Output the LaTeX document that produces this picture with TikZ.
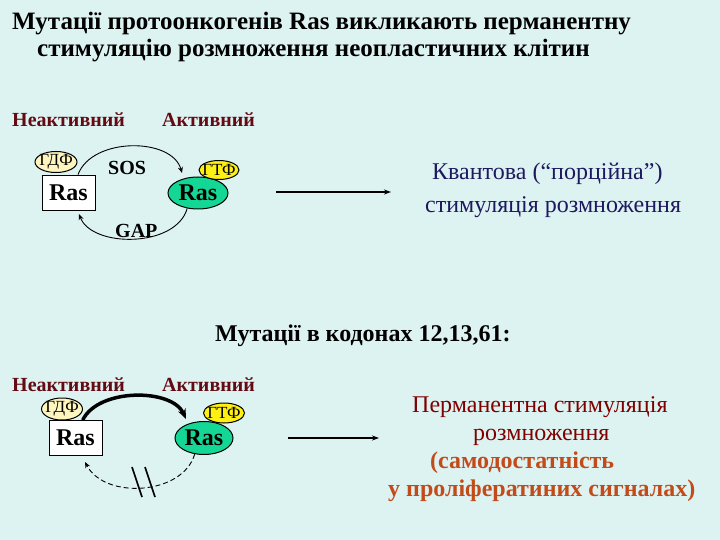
\documentclass[tikz,border=0pt]{standalone}
\usepackage{fontspec}
\setmainfont{Liberation Serif}
\usetikzlibrary{arrows.meta,shapes.geometric}
\definecolor{bg}{RGB}{221,243,241}
\definecolor{lbl}{RGB}{100,10,20}
\definecolor{navy}{RGB}{30,25,95}
\definecolor{dred}{RGB}{128,0,0}
\definecolor{brown}{RGB}{195,75,25}
\definecolor{gdp}{RGB}{255,245,190}
\definecolor{gtp}{RGB}{255,240,20}
\definecolor{grn}{RGB}{20,215,150}
\tikzset{
  state/.style={font=\bfseries\fontsize{20}{24}\selectfont, text=lbl, anchor=base west, inner sep=0pt},
  rasbox/.style={draw, line width=0.8pt, fill=white, minimum width=53pt, minimum height=35pt, inner sep=0pt, font=\bfseries\fontsize{24}{26}\selectfont},
  rasgreen/.style={ellipse, draw, line width=1pt, fill=grn, minimum width=60pt, minimum height=32pt, inner sep=0pt, font=\bfseries\fontsize{24}{26}\selectfont},
  nuc/.style={ellipse, draw, line width=1pt, inner xsep=-9pt, inner ysep=-3pt, font=\fontsize{17}{18}\selectfont},
  enz/.style={font=\bfseries\fontsize{20}{22}\selectfont, inner sep=0pt, anchor=base west},
  cyc/.style={-{Stealth[length=6pt,width=5pt]}, line width=0.9pt},
  big/.style={-{Stealth[length=7pt,width=5pt]}, line width=1.8pt},
  body/.style={font=\fontsize{24}{28}\selectfont, inner sep=0pt, anchor=base west},
  ttl/.style={anchor=base west, inner sep=0pt, font=\bfseries\fontsize{25}{30}\selectfont}
}
\begin{document}
\begin{tikzpicture}[x=1pt,y=-1pt]
\path[fill=bg, use as bounding box] (0,0) rectangle (720,540);
% title
\node[ttl] (t1) at (12,30) {Мутації протоонкогенів Ras викликають перманентну};
\node[ttl] (t2) at (37,57) {стимуляцію розмноження неопластичних клітин};
% top section
\node[state] (in1) at (12,127) {Неактивний};
\node[state] (ac1) at (162,127) {Активний};
\node[rasbox] (ras1) at (68.5,192.5) {Ras};
\node[nuc, fill=gdp, minimum width=42pt, minimum height=21pt] (gdp1) at (56,162) {ГДФ};
\node[rasgreen] (rasA) at (198,193) {Ras};
\node[nuc, fill=gtp, minimum width=40pt, minimum height=19pt] (gtp1) at (219,170) {ГТФ};
\node[enz] (sos) at (108,175) {SOS};
\node[enz] (gap) at (115,237) {GAP};
\coordinate (e1) at (182,173);
\coordinate (e2) at (79,214);
\draw[cyc] (ras1.62) .. controls (92,137) and (172,137) .. (e1);
\draw[cyc] (rasA.235) .. controls (176,248) and (92,248) .. (e2);
\coordinate (a1s) at (276,192);
\coordinate (a1e) at (391,192);
\draw[big] (a1s) -- (a1e);
\node[body, text=navy] (q1) at (432,180) {Квантова (“порційна”)};
\node[body, text=navy] (q2) at (425,212) {стимуляція розмноження};
% middle
\node[anchor=base west, inner sep=0pt, font=\bfseries\fontsize{24}{28}\selectfont] (mut) at (215,341) {Мутації в кодонах 12,13,61:};
% bottom section
\node[state] (in2) at (12,391) {Неактивний};
\node[state] (ac2) at (162,391) {Активний};
\node[rasbox] (ras2) at (75.5,438) {Ras};
\node[nuc, fill=gdp, minimum width=41pt, minimum height=22pt] (gdp2) at (62,409) {ГДФ};
\node[rasgreen, minimum width=58pt, minimum height=33pt] (rasB) at (204,438) {Ras};
\node[nuc, fill=gtp, minimum width=41pt, minimum height=20pt] (gtp2) at (224,413) {ГТФ};
\coordinate (e3) at (186,419);
\coordinate (e4) at (85,462);
\draw[-{Stealth[length=10pt,width=8pt]}, line width=3.5pt] (ras2.68) .. controls (98,388) and (172,388) .. (e3);
\draw[cyc, dashed, dash pattern=on 5pt off 3pt] (rasB.240) .. controls (183,495) and (105,500) .. (e4);
\coordinate (s1a) at (132,467); \coordinate (s1b) at (142,497);
\coordinate (s2a) at (145,467); \coordinate (s2b) at (155,497);
\draw[line width=1.6pt] (s1a) -- (s1b);
\draw[line width=1.6pt] (s2a) -- (s2b);
\coordinate (a2s) at (288,438);
\coordinate (a2e) at (379,438);
\draw[big] (a2s) -- (a2e);
\node[body, text=dred] (p1) at (412,412) {Перманентна стимуляція};
\node[body, text=dred] (p2) at (473,440) {розмноження};
\node[body, text=brown, font=\bfseries\fontsize{24}{28}\selectfont] (p3) at (430,468) {(самодостатність};
\node[body, text=brown, font=\bfseries\fontsize{24}{28}\selectfont] (p4) at (388,496) {у проліфератиних сигналах)};
\end{tikzpicture}
\end{document}
